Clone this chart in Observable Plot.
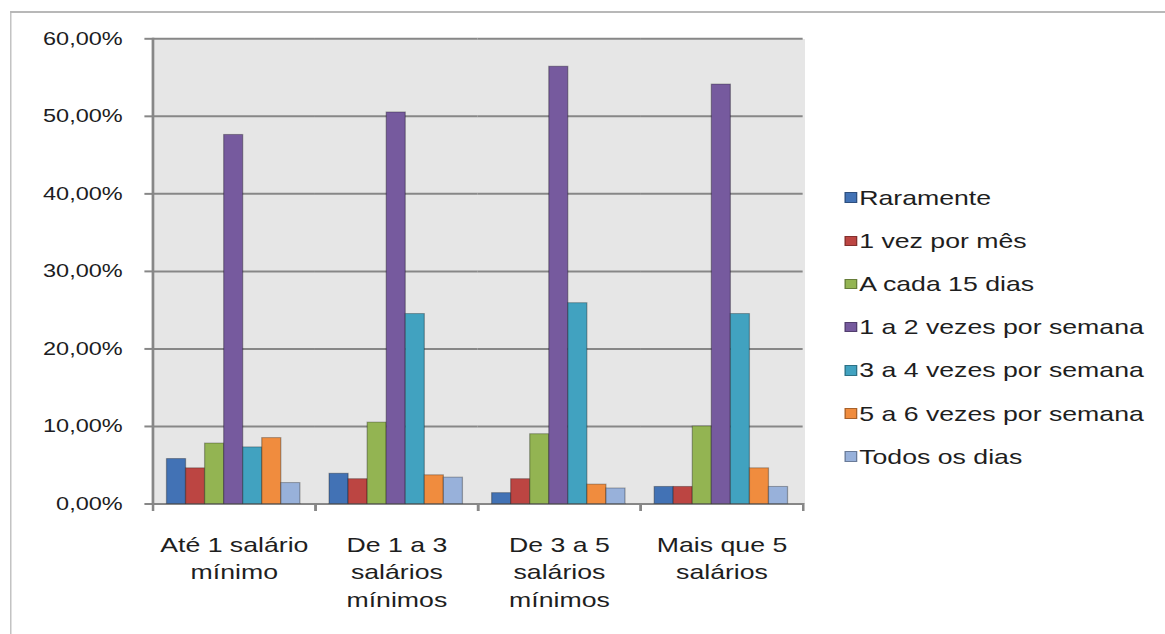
<!DOCTYPE html>
<html>
<head>
<meta charset="utf-8">
<script src="https://cdn.jsdelivr.net/npm/d3@7"></script>
<script src="https://cdn.jsdelivr.net/npm/@observablehq/plot@0.6"></script>
<style>
  html, body { margin: 0; padding: 0; background: #fff; overflow: hidden; }
  /* the whole figure uses the wide, horizontally stretched proportions of the original spreadsheet export */
  #stage { position: relative; width: 917px; height: 634px; transform: scaleX(1.27); transform-origin: 0 0;
           font-family: "Liberation Sans", Arial, sans-serif; }
  #border { position: absolute; left: 7.5px; top: 11px; right: -40px; bottom: -40px;
            border-top: 2px solid #b8b8b8; border-left: 1.6px solid #b8b8b8; }
  #chart { position: absolute; left: 0; top: 0; }
  #legend { position: absolute; left: 665px; top: 176px; }
  .row { display: flex; align-items: center; height: 43.2px; font-size: 21px; color: #1e1e1e; white-space: nowrap; }
  .sw { width: 9.5px; height: 10.5px; margin-right: 2px; box-sizing: border-box; border: 1px solid rgba(0,0,0,0.3); }
</style>
</head>
<body>
<div id="stage">
  <div id="border"></div>
  <div id="chart"></div>
  <div id="legend"></div>
</div>
<script>
// Income brackets (categories on the horizontal axis)
const groups = ["Até 1 salário mínimo", "De 1 a 3 salários mínimos", "De 3 a 5 salários mínimos", "Mais que 5 salários"];
const groupLabels = ["Até 1 salário\nmínimo", "De 1 a 3\nsalários\nmínimos", "De 3 a 5\nsalários\nmínimos", "Mais que 5\nsalários"];

// Frequency answers (series)
const series = ["Raramente", "1 vez por mês", "A cada 15 dias", "1 a 2 vezes por semana",
                "3 a 4 vezes por semana", "5 a 6 vezes por semana", "Todos os dias"];

// Share of respondents (%) per bracket, one array per series
const raramente        = [5.8, 3.9, 1.4, 2.2];
const umaVezPorMes     = [4.6, 3.2, 3.2, 2.2];
const aCada15Dias      = [7.8, 10.5, 9.0, 10.0];
const umaADuasVezes    = [47.6, 50.5, 56.4, 54.1];
const tresAQuatroVezes = [7.3, 24.5, 25.9, 24.5];
const cincoASeisVezes  = [8.5, 3.7, 2.5, 4.6];
const todosOsDias      = [2.7, 3.4, 2.0, 2.2];

// Y axis ticks (%)
const yTicks = [0, 10, 20, 30, 40, 50, 60];

const palette = ["#4272b5", "#bc4542", "#93b452", "#765a9e", "#41a2c0", "#f08c3e", "#98b1da"];

const seriesValues = [raramente, umaVezPorMes, aCada15Dias, umaADuasVezes, tresAQuatroVezes, cincoASeisVezes, todosOsDias];
const data = series.flatMap((s, i) => groups.map((g, j) => ({group: g, series: s, value: seriesValues[i][j]})));
const labelData = groups.map((g, j) => ({group: g, label: groupLabels[j]}));

const W = 917, H = 634;
const mt = 38.3, mb = 130.5, ml = 118.9, mr = W - 633.9;
const innerH = H - mt - mb;
const gridColor = "#878787";

const pct = d => d.toFixed(2).replace(".", ",") + "%";

const chart = Plot.plot({
  width: W,
  height: H,
  marginTop: mt,
  marginBottom: mb,
  marginLeft: ml,
  marginRight: mr,
  style: {fontFamily: "'Liberation Sans', Arial, sans-serif", background: "transparent", overflow: "visible"},
  fx: {domain: groups, padding: 0, axis: null},
  x: {domain: series, paddingInner: 0, paddingOuter: 0.68, axis: null},
  y: {domain: [0, 60], axis: null},
  color: {domain: series, range: palette},
  marks: [
    // plot-area background, overlapping neighbours so adjacent panels show no seam
    Plot.frame({fill: "#e6e6e6", stroke: "none", insetLeft: -1.5, insetRight: -1.5, shapeRendering: "crispEdges"}),
    Plot.gridY(yTicks, {stroke: gridColor, strokeOpacity: 1, strokeWidth: 2}),
    Plot.frame({anchor: "left", facetAnchor: "left", stroke: gridColor, strokeWidth: 2}),
    // short category separators below the baseline
    Plot.frame({anchor: "left", stroke: gridColor, strokeWidth: 2, insetTop: innerH, insetBottom: -6}),
    Plot.frame({anchor: "right", stroke: gridColor, strokeWidth: 2, insetTop: innerH, insetBottom: -6}),
    Plot.axisY(yTicks, {tickFormat: pct, tickSize: 6.3, tickPadding: 17.6, stroke: gridColor, strokeWidth: 2,
                        fill: "#1c1c22", fontSize: 18.5, label: null}),
    Plot.barY(data, {fx: "group", x: "series", y: "value", fill: "series",
                     stroke: "#000", strokeOpacity: 0.3, strokeWidth: 1, inset: 0}),
    Plot.text(labelData, {fx: "group", text: "label", frameAnchor: "bottom", lineAnchor: "top",
                          dy: 28, fontSize: 21, lineHeight: 1.31, fill: "#1e1e1e"})
  ]
});
document.getElementById("chart").appendChild(chart);

// Legend
const legend = document.getElementById("legend");
series.forEach((s, i) => {
  const row = document.createElement("div");
  row.className = "row";
  const sw = document.createElement("span");
  sw.className = "sw";
  sw.style.background = palette[i];
  const label = document.createElement("span");
  label.textContent = s;
  row.appendChild(sw);
  row.appendChild(label);
  legend.appendChild(row);
});
</script>
</body>
</html>
